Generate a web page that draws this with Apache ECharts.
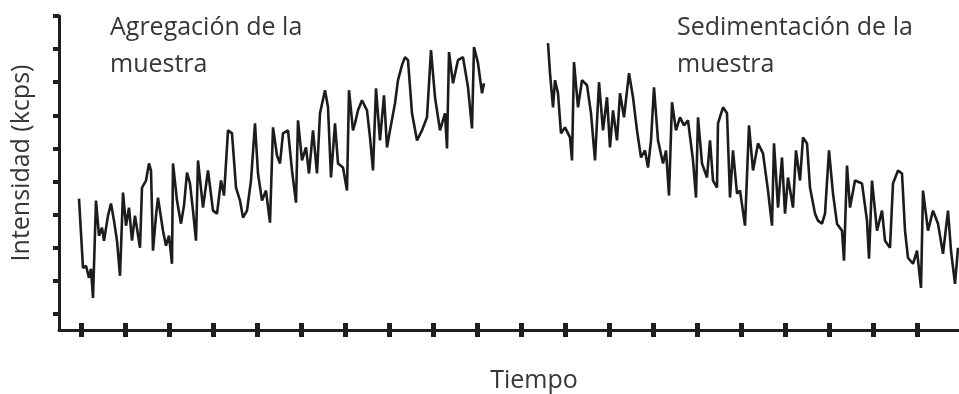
<!DOCTYPE html>
<html>
<head>
<meta charset="utf-8">
<script src="https://cdn.jsdelivr.net/npm/echarts@6/dist/echarts.min.js"></script>
<style>
  html, body { margin: 0; padding: 0; background: #fff; }
  #grafica { width: 959px; height: 394px; }
</style>
</head>
<body>
<div id="grafica"></div>
<script>
// Ticks de los ejes (sin etiquetas en la figura original)
const ticksTiempo = [22, 66, 110, 154, 198, 242, 286, 330, 374, 418, 462, 506, 550, 594, 638, 682, 726, 770, 814, 858];
const ticksIntensidad = [16, 49, 82, 115, 148, 181, 214, 247, 280, 313];

// Agregación de la muestra: [tiempo, intensidad]
const agregacion = [
    [20, 131], [24, 62], [27, 64], [30, 52], [32, 61], [34, 32], [37, 129], [40, 94], [43, 102], [45, 89],
    [49, 114], [52, 126], [55, 109], [58, 89], [61, 54], [64, 137], [67, 104], [70, 122], [73, 89], [76, 114],
    [81, 82], [83, 142], [87, 149], [90, 166], [92, 159], [94, 79], [97, 114], [99, 132], [104, 99], [107, 84],
    [110, 94], [113, 66], [114, 166], [118, 129], [122, 106], [125, 124], [128, 157], [131, 146], [134, 119], [137, 89],
    [139, 169], [144, 122], [149, 159], [154, 119], [158, 116], [162, 149], [165, 134], [169, 199], [173, 196], [177, 142],
    [181, 129], [184, 112], [188, 119], [192, 149], [196, 206], [199, 156], [203, 129], [207, 139], [211, 107], [214, 202],
    [218, 174], [221, 166], [224, 196], [229, 199], [233, 159], [237, 127], [239, 209], [243, 169], [247, 182], [250, 156],
    [254, 199], [258, 156], [261, 216], [266, 239], [269, 222], [272, 152], [276, 206], [279, 166], [284, 162], [288, 139],
    [290, 239], [294, 199], [296, 206], [299, 219], [303, 229], [308, 219], [311, 192], [314, 159], [317, 241], [321, 189],
    [325, 234], [328, 182], [331, 199], [336, 226], [339, 249], [343, 264], [346, 272], [349, 269], [353, 216], [358, 189],
    [363, 199], [368, 212], [372, 279], [376, 232], [381, 199], [386, 216], [388, 181], [390, 277], [394, 246], [399, 269],
    [404, 272], [409, 242], [413, 201], [415, 282], [419, 266], [423, 236], [425, 246]
];

// Sedimentación de la muestra: [tiempo, intensidad]
const sedimentacion = [
    [489, 286], [491, 256], [494, 222], [496, 249], [499, 236], [502, 196], [506, 202], [511, 192], [513, 169], [515, 267],
    [519, 222], [523, 249], [528, 244], [532, 216], [536, 169], [540, 247], [544, 199], [548, 232], [551, 182], [554, 219],
    [558, 189], [561, 236], [565, 212], [570, 256], [574, 232], [578, 199], [582, 172], [586, 179], [589, 162], [592, 189],
    [595, 242], [599, 189], [604, 166], [607, 179], [610, 134], [613, 227], [617, 199], [621, 212], [625, 204], [629, 209],
    [634, 169], [637, 132], [639, 212], [643, 166], [648, 152], [651, 189], [654, 149], [658, 142], [659, 206], [664, 222],
    [668, 216], [671, 132], [674, 179], [678, 136], [681, 139], [686, 104], [690, 204], [694, 159], [699, 186], [704, 176],
    [709, 139], [713, 104], [715, 186], [719, 122], [723, 172], [726, 116], [729, 152], [734, 122], [737, 179], [741, 149],
    [744, 192], [748, 186], [751, 142], [756, 116], [759, 109], [763, 106], [766, 116], [770, 179], [774, 136], [778, 106],
    [783, 99], [785, 69], [788, 164], [791, 122], [796, 149], [803, 146], [808, 109], [810, 71], [813, 149], [818, 99],
    [823, 119], [826, 89], [831, 82], [834, 146], [839, 159], [843, 156], [846, 99], [849, 72], [854, 66], [858, 79],
    [862, 42], [864, 139], [869, 99], [874, 119], [879, 106], [884, 76], [889, 119], [892, 79], [896, 46], [899, 82]
];

const colorEje = '#1e1e1e';
const colorTexto = '#363636';
const fuenteTexto = '25px "Open Sans"';

const grafica = echarts.init(document.getElementById('grafica'));

let option = {
    animation: false,
    grid: { left: 59, right: 0, top: 16, bottom: 64 },
    xAxis: [
        {
            type: 'value', min: 0, max: 900,
            axisLine: { show: true, lineStyle: { color: colorEje, width: 3 } },
            axisTick: { show: true, inside: true, length: 7, customValues: ticksTiempo, lineStyle: { color: colorEje, width: 5 } },
            axisLabel: { show: false },
            splitLine: { show: false }
        },
        {
            // segundo eje solo para la parte de los ticks que sale hacia abajo
            type: 'value', min: 0, max: 900, position: 'bottom',
            axisLine: { show: false },
            axisTick: { show: true, inside: false, length: 7, customValues: ticksTiempo, lineStyle: { color: colorEje, width: 5 } },
            axisLabel: { show: false },
            splitLine: { show: false }
        }
    ],
    yAxis: {
        type: 'value', min: 0, max: 313,
        axisLine: { show: true, lineStyle: { color: colorEje, width: 3 } },
        axisTick: { show: true, length: 6, customValues: ticksIntensidad, lineStyle: { color: colorEje, width: 4 } },
        axisLabel: { show: false },
        splitLine: { show: false }
    },
    // Nombres de los ejes y anotaciones
    graphic: [
        { type: 'text', left: 110, top: 9, style: { text: 'Agregación de la\nmuestra', font: fuenteTexto, fill: colorTexto, lineHeight: 37 } },
        { type: 'text', left: 677, top: 9, style: { text: 'Sedimentación de la\nmuestra', font: fuenteTexto, fill: colorTexto, lineHeight: 37 } },
        { type: 'text', x: 534, y: 381, style: { text: 'Tiempo', font: fuenteTexto, fill: colorTexto, align: 'center', verticalAlign: 'middle' } },
        { type: 'text', x: 22, y: 163, rotation: Math.PI / 2, style: { text: 'Intensidad (kcps)', font: fuenteTexto, fill: colorTexto, align: 'center', verticalAlign: 'middle' } }
    ],
    series: [
        {
            name: 'Agregación', type: 'line', data: agregacion, showSymbol: false,
            lineStyle: { color: '#1c1c1c', width: 2.6 }
        },
        {
            name: 'Sedimentación', type: 'line', data: sedimentacion, showSymbol: false,
            lineStyle: { color: '#1c1c1c', width: 2.6 }
        }
    ]
};

grafica.setOption(option);
</script>
</body>
</html>
